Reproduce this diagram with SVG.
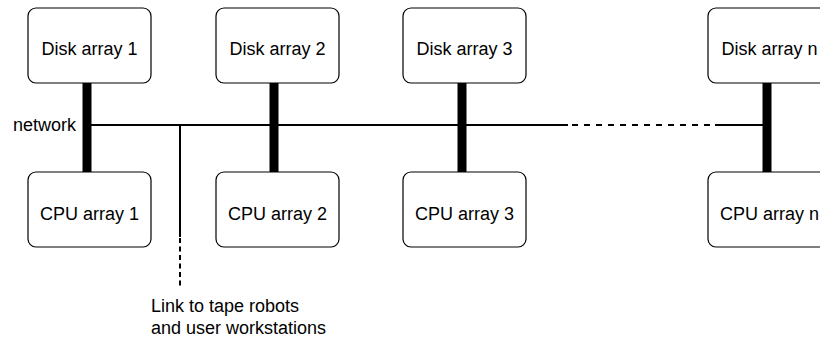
<svg xmlns="http://www.w3.org/2000/svg" width="820" height="338" viewBox="0 0 820 338">
  <style>
    .box { fill: #ffffff; stroke: #000000; stroke-width: 1.2; }
    .label { font-family: "Liberation Sans", Arial, sans-serif; font-size: 18px; fill: #000000; }
    .mid { text-anchor: middle; }
    .bus { stroke: #000000; stroke-width: 9; fill: none; }
    .net { stroke: #000000; stroke-width: 2; fill: none; }
    .netdash { stroke: #000000; stroke-width: 2; fill: none; stroke-dasharray: 6 6; }
    .linkdash { stroke: #000000; stroke-width: 2; fill: none; stroke-dasharray: 5 3.5; }
  </style>

  <!-- connectors: thick node links, network backbone, external link -->
  <g id="connectors">
    <line class="bus" x1="87" y1="83" x2="87" y2="172"/>
    <line class="bus" x1="274" y1="83" x2="274" y2="172"/>
    <line class="bus" x1="462" y1="83" x2="462" y2="172"/>
    <line class="bus" x1="767" y1="83" x2="767" y2="172"/>

    <line class="net" x1="87" y1="125" x2="568" y2="125"/>
    <line class="netdash" x1="572" y1="125" x2="713" y2="125"/>
    <line class="net" x1="715" y1="125" x2="767" y2="125"/>

    <line class="net" x1="180" y1="125" x2="180" y2="237"/>
    <line class="linkdash" x1="180" y1="238" x2="180" y2="288"/>
  </g>

  <text class="label" x="76" y="131" text-anchor="end">network</text>

  <g id="disk1">
    <rect class="box" x="28" y="8" width="123" height="75" rx="8"/>
    <text class="label mid" x="89.5" y="55">Disk array 1</text>
  </g>
  <g id="disk2">
    <rect class="box" x="216" y="8" width="123" height="75" rx="8"/>
    <text class="label mid" x="277.5" y="55">Disk array 2</text>
  </g>
  <g id="disk3">
    <rect class="box" x="403" y="8" width="123" height="75" rx="8"/>
    <text class="label mid" x="464.5" y="55">Disk array 3</text>
  </g>
  <g id="diskn">
    <rect class="box" x="708" y="8" width="123" height="75" rx="8"/>
    <text class="label mid" x="769.5" y="55">Disk array n</text>
  </g>

  <g id="cpu1">
    <rect class="box" x="28" y="172" width="123" height="75" rx="8"/>
    <text class="label mid" x="89.5" y="220">CPU array 1</text>
  </g>
  <g id="cpu2">
    <rect class="box" x="216" y="172" width="123" height="75" rx="8"/>
    <text class="label mid" x="277.5" y="220">CPU array 2</text>
  </g>
  <g id="cpu3">
    <rect class="box" x="403" y="172" width="123" height="75" rx="8"/>
    <text class="label mid" x="464.5" y="220">CPU array 3</text>
  </g>
  <g id="cpun">
    <rect class="box" x="708" y="172" width="123" height="75" rx="8"/>
    <text class="label mid" x="769.5" y="220">CPU array n</text>
  </g>

  <g id="link-note">
    <text class="label" x="151" y="312">Link to tape robots</text>
    <text class="label" x="151" y="334">and user workstations</text>
  </g>
</svg>
